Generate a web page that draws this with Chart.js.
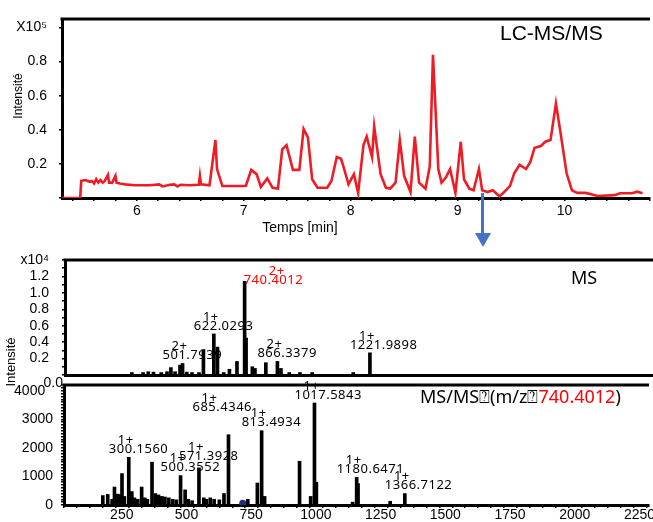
<!DOCTYPE html>
<html>
<head>
<meta charset="utf-8">
<script src="https://cdn.jsdelivr.net/npm/chart.js@4.4.1/dist/chart.umd.min.js"></script>
<style>
  html, body { margin: 0; padding: 0; background: #fff; }
  #wrap { position: relative; width: 653px; height: 522px; overflow: hidden; }
  canvas { position: absolute; left: 0; }
  #lcChart { top: 0; }
  #msChart { top: 240px; }
  #msmsChart { top: 370px; }
  #arrow { position: absolute; left: 474px; top: 192px; }
</style>
</head>
<body>
<div id="wrap">
  <canvas id="lcChart" width="653" height="240"></canvas>
  <canvas id="msmsChart" width="653" height="152"></canvas>
  <canvas id="msChart" width="653" height="155"></canvas>
  <svg id="arrow" width="18" height="58">
    <rect x="7" y="1" width="3" height="42" fill="#4472c4"></rect>
    <polygon points="1,41 17,41 9,55" fill="#4472c4"></polygon>
  </svg>
</div>

<script>
// LC-MS/MS chromatogram: retention time (min) and intensity (x10^5)
const lcTime = [
    5.30, 5.47, 5.48, 5.52, 5.54, 5.56, 5.58, 5.60, 5.62, 5.64,
    5.66, 5.68, 5.70, 5.73, 5.74, 5.77, 5.80, 5.81, 5.84, 5.89,
    5.98, 6.12, 6.21, 6.24, 6.31, 6.35, 6.38, 6.41, 6.49, 6.58,
    6.59, 6.60, 6.68, 6.735, 6.75, 6.80, 6.99, 7.02, 7.07, 7.12,
    7.16, 7.22, 7.27, 7.32, 7.36, 7.40, 7.46, 7.52, 7.56, 7.60,
    7.64, 7.69, 7.78, 7.82, 7.87, 7.91, 7.93, 7.98, 8.03, 8.07,
    8.12, 8.15, 8.20, 8.22, 8.28, 8.33, 8.37, 8.42, 8.46, 8.50,
    8.56, 8.60, 8.64, 8.70, 8.74, 8.77, 8.82, 8.85, 8.89, 8.93,
    8.98, 9.03, 9.06, 9.11, 9.15, 9.20, 9.23, 9.28, 9.33, 9.39,
    9.42, 9.49, 9.53, 9.58, 9.64, 9.68, 9.72, 9.78, 9.82, 9.87,
    9.92, 9.96, 10.02, 10.07, 10.12, 10.20, 10.31, 10.47, 10.52, 10.63,
    10.68, 10.73
];
const lcIntensity = [
    0, 0, 0.10, 0.105, 0.10, 0.095, 0.10, 0.085, 0.11, 0.09,
    0.105, 0.09, 0.10, 0.135, 0.09, 0.09, 0.13, 0.09, 0.085, 0.08,
    0.075, 0.075, 0.08, 0.068, 0.078, 0.08, 0.068, 0.078, 0.075, 0.078,
    0.13, 0.08, 0.075, 0.34, 0.17, 0.07, 0.07, 0.072, 0.165, 0.14,
    0.065, 0.115, 0.06, 0.055, 0.285, 0.31, 0.165, 0.165, 0.405, 0.355,
    0.11, 0.06, 0.06, 0.10, 0.24, 0.23, 0.19, 0.08, 0.14, 0.03,
    0.31, 0.36, 0.24, 0.42, 0.14, 0.06, 0.055, 0.09, 0.34, 0.13,
    0.035, 0.36, 0.09, 0.055, 0.185, 0.84, 0.17, 0.09, 0.12, 0.17,
    0.03, 0.33, 0.11, 0.055, 0.045, 0.17, 0.045, 0.035, 0.045, 0.01,
    0.025, 0.07, 0.145, 0.195, 0.17, 0.21, 0.295, 0.305, 0.33, 0.34,
    0.555, 0.395, 0.145, 0.045, 0.03, 0.03, 0.012, 0.017, 0.028, 0.028,
    0.037, 0.028
];

// MS spectrum: m/z and intensity (x10^4)
const msMz = [
    307, 350, 370, 390, 420, 442, 457, 473, 492, 501.79,
    518, 538, 565, 582, 622.03, 636, 660, 682, 711, 740.40,
    746, 770, 780, 822, 866.34, 880, 912, 953, 1000, 1158,
    1221.99
];
const msIntensity = [
    0.03, 0.03, 0.04, 0.035, 0.03, 0.04, 0.09, 0.04, 0.12, 0.14,
    0.035, 0.03, 0.03, 0.31, 0.50, 0.34, 0.03, 0.07, 0.165, 1.14,
    0.45, 0.10, 0.08, 0.15, 0.165, 0.08, 0.03, 0.03, 0.03, 0.03,
    0.27
];
const msLabels = ['501.7939', '622.0293', '740.4012', '866.3379', '1221.9898'];
const msCharges = ['2+', '1+', '2+', '2+', '1+'];

// MS/MS spectrum of m/z 740.4012
const msmsMz = [
    200, 219, 236, 245, 258, 265, 274, 283, 300.16, 312,
    322, 335, 350, 362, 372, 390, 403, 415, 428, 440,
    455, 470, 484, 500.36, 518, 530, 545, 571.39, 590, 600,
    615, 630, 650, 668, 685.43, 760, 797, 813.49, 825, 960,
    1003, 1017.58, 1025, 1165, 1180.65, 1186, 1310, 1366.71
];
const msmsIntensity = [
    330, 370, 200, 630, 380, 350, 1100, 300, 1670, 470,
    250, 200, 630, 250, 200, 1500, 400, 350, 300, 280,
    250, 200, 180, 1030, 530, 200, 150, 1300, 250, 200,
    250, 200, 180, 400, 2460, 200, 770, 2600, 300, 1530,
    300, 3570, 800, 100, 970, 750, 130, 400
];
const msmsLabels = ['300.1560', '500.3552', '571.3928', '685.4346', '813.4934', '1017.5843', '1180.6471', '1366.7122'];
const msmsCharges = ['1+', '1+', '1+', '1+', '1+', '1+', '1+', '1+'];
const precursorMz = 740.4012;
const precursorMark = 60;

// ---- styling ----
Chart.defaults.color = '#000';
Chart.defaults.font.family = "'Liberation Sans', Arial, sans-serif";

const axisFont = { family: "'Liberation Sans', Arial, sans-serif", size: 14, lineHeight: 1 };
const red = '#ee1d25';

// label nudges (pixels) for the few labels not placed like the others
const labelNudges = {
    '740.4012': { dx: 19, dy: 7, chargeDx: 33 },
    '685.4346': { dx: -16, dy: -19 },
    '571.3928': { dy: -4 }
};

const isWhole = v => Math.abs(v - Math.round(v)) < 1e-6;

// Top border of each panel
const framePlugin = {
    id: 'frame',
    afterDraw(chart) {
        const { ctx, chartArea: a } = chart;
        ctx.save();
        ctx.strokeStyle = '#000';
        ctx.lineWidth = 3;
        ctx.beginPath();
        ctx.moveTo(a.left - 1.5, a.top);
        ctx.lineTo(a.right, a.top);
        ctx.stroke();
        ctx.restore();
    }
};

// Free text in a panel (titles, axis names)
function textPlugin(items) {
    return {
        id: 'panelText',
        afterDraw(chart) {
            const ctx = chart.ctx;
            items.forEach(item => {
                ctx.save();
                ctx.font = item.font;
                ctx.textBaseline = item.baseline || 'alphabetic';
                ctx.translate(item.x, item.y);
                if (item.rotate) ctx.rotate(item.rotate);
                const parts = Array.isArray(item.text) ? item.text : [[item.text, '#000']];
                const total = parts.reduce((w, p) => w + ctx.measureText(p[0]).width, 0);
                let cx = 0;
                if (item.align === 'center') cx = -total / 2;
                if (item.align === 'right') cx = -total;
                ctx.textAlign = 'left';
                parts.forEach(([str, color]) => {
                    ctx.fillStyle = color;
                    ctx.fillText(str, cx, 0);
                    cx += ctx.measureText(str).width;
                });
                ctx.restore();
            });
        }
    };
}

// m/z labels with charge state above each peak
function peakLabelPlugin(mzList, intList, labels, charges, highlight) {
    return {
        id: 'peakLabels',
        afterDatasetsDraw(chart) {
            const { ctx, scales: { x, y } } = chart;
            ctx.save();
            ctx.font = "13px 'Noto Sans', sans-serif";
            ctx.letterSpacing = '0.5px';
            ctx.textBaseline = 'middle';
            labels.forEach((label, i) => {
                const mz = parseFloat(label);
                let k = 0;
                mzList.forEach((m, j) => {
                    if (Math.abs(m - mz) < Math.abs(mzList[k] - mz)) k = j;
                });
                const nudge = labelNudges[label] || {};
                const left = x.getPixelForValue(mzList[k]) - 20 + (nudge.dx || 0);
                const cy = y.getPixelForValue(intList[k]) - 8 + (nudge.dy || 0);
                ctx.fillStyle = label === highlight ? '#ff0000' : '#000';
                ctx.textAlign = 'left';
                ctx.fillText(label, left, cy);
                ctx.textAlign = 'center';
                ctx.fillText(charges[i], left + (nudge.chargeDx || 17), cy - 9);
            });
            ctx.restore();
        }
    };
}

const tickGrid = { display: true, drawOnChartArea: false, color: '#000', tickLength: 3, lineWidth: 1.5 };
const axisBorder = { color: '#000', width: 3 };

// ---- LC-MS/MS chromatogram ----
new Chart(document.getElementById('lcChart'), {
    type: 'line',
    data: {
        datasets: [{
            data: lcTime.map((t, i) => ({ x: t, y: lcIntensity[i] })),
            borderColor: red,
            borderWidth: 2.6,
            pointRadius: 0,
            tension: 0
        }]
    },
    options: {
        responsive: false,
        animation: false,
        layout: { padding: { top: 9, right: 0, bottom: 0, left: 0 } },
        plugins: { legend: { display: false }, tooltip: { enabled: false } },
        scales: {
            x: {
                type: 'linear', min: 5.3, max: 10.8,
                afterFit: s => { s.height = 42; },
                border: axisBorder,
                grid: tickGrid,
                ticks: {
                    stepSize: 0.2, includeBounds: false, autoSkip: false, maxRotation: 0,
                    padding: 3, font: axisFont,
                    callback: v => isWhole(v) ? String(Math.round(v)) : ''
                }
            },
            y: {
                min: 0, max: 1.05,
                afterFit: s => { s.width = 62; },
                border: axisBorder,
                grid: tickGrid,
                ticks: {
                    stepSize: 0.2, includeBounds: false, autoSkip: false,
                    padding: 12, font: axisFont,
                    callback: v => Math.abs(v - 1) < 1e-6 ? 'X10\u2075' : (v < 1e-6 ? '' : v.toFixed(1))
                }
            }
        }
    },
    plugins: [framePlugin, textPlugin([
        { text: 'LC-MS/MS', x: 500, y: 40, font: "21px 'Liberation Sans', Arial, sans-serif" },
        { text: 'Temps [min]', x: 300, y: 232, align: 'center', font: "14px 'Liberation Sans', Arial, sans-serif" },
        { text: 'Intensité', x: 19, y: 96, align: 'center', baseline: 'middle', rotate: -Math.PI / 2,
          font: "12px 'Liberation Sans', Arial, sans-serif" }
    ])]
});

// ---- MS spectrum ----
new Chart(document.getElementById('msChart'), {
    type: 'bar',
    data: {
        datasets: [{
            data: msMz.map((m, i) => ({ x: m, y: msIntensity[i] })),
            backgroundColor: '#000',
            borderWidth: 0,
            barThickness: 3
        }]
    },
    options: {
        responsive: false,
        animation: false,
        layout: { padding: { top: 11, right: 0, bottom: 0, left: 0 } },
        plugins: { legend: { display: false }, tooltip: { enabled: false } },
        scales: {
            x: {
                type: 'linear', min: 50, max: 2310, offset: false,
                afterFit: s => { s.height = 17; },
                border: axisBorder,
                grid: { display: false, offset: false },
                ticks: { display: false }
            },
            y: {
                min: 0, max: 1.4,
                afterFit: s => { s.width = 65; },
                border: axisBorder,
                grid: tickGrid,
                ticks: {
                    stepSize: 0.1, autoSkip: false, padding: 13, font: axisFont,
                    callback: v => {
                        const k = Math.round(v * 10);
                        if (k === 14) return 'x10\u2074';
                        if (k === 0 || k % 2) return '';
                        return (k / 10).toFixed(1);
                    }
                }
            }
        }
    },
    plugins: [framePlugin,
        peakLabelPlugin(msMz, msIntensity, msLabels, msCharges, '740.4012'),
        textPlugin([
            { text: 'MS', x: 571, y: 44, font: "18px 'Noto Sans', sans-serif" },
            { text: '0.0', x: 63, y: 143, align: 'right', baseline: 'middle', font: "14px 'Liberation Sans', Arial, sans-serif" },
            // shared y title of the two spectra
            { text: 'Intensité', x: 11, y: 122, align: 'center', baseline: 'middle', rotate: -Math.PI / 2,
              font: "13px 'Liberation Sans', Arial, sans-serif" }
        ])]
});

// ---- MS/MS spectrum ----
new Chart(document.getElementById('msmsChart'), {
    type: 'bar',
    data: {
        datasets: [{
            data: msmsMz.map((m, i) => ({ x: m, y: msmsIntensity[i] })),
            backgroundColor: '#000',
            borderWidth: 0,
            barThickness: 3
        }, {
            type: 'scatter',
            data: [{ x: precursorMz, y: precursorMark }],
            pointRadius: 3.5,
            backgroundColor: '#1f2f7a',
            borderWidth: 0
        }]
    },
    options: {
        responsive: false,
        animation: false,
        layout: { padding: { top: 10, right: 0, bottom: 0, left: 0 } },
        plugins: { legend: { display: false }, tooltip: { enabled: false } },
        scales: {
            x: {
                type: 'linear', min: 50, max: 2310, offset: false,
                afterFit: s => { s.height = 17; },
                border: axisBorder,
                grid: Object.assign({}, tickGrid, { offset: false }),
                ticks: {
                    stepSize: 50, includeBounds: false, autoSkip: false, maxRotation: 0,
                    padding: 0, labelOffset: 6, font: axisFont,
                    callback: v => (Math.round(v) % 250 === 0 ? String(Math.round(v)) : '')
                }
            },
            y: {
                min: 0, max: 4200,
                afterFit: s => { s.width = 64; },
                border: axisBorder,
                grid: tickGrid,
                ticks: {
                    stepSize: 100, autoSkip: false, padding: 8, font: axisFont,
                    callback: v => {
                        const r = Math.round(v);
                        if (r % 1000) return '';
                        return r === 4000 ? '4000  ' : String(r);
                    }
                }
            }
        }
    },
    plugins: [framePlugin,
        peakLabelPlugin(msmsMz, msmsIntensity, msmsLabels, msmsCharges, null),
        textPlugin([
            { text: [['MS/MS\u2370(m/z\u2370', '#000'], ['740.4012', '#ff0000'], [')', '#000']],
              x: 420, y: 33, font: "18px 'Noto Sans', sans-serif" }
        ])]
});
</script>
</body>
</html>
